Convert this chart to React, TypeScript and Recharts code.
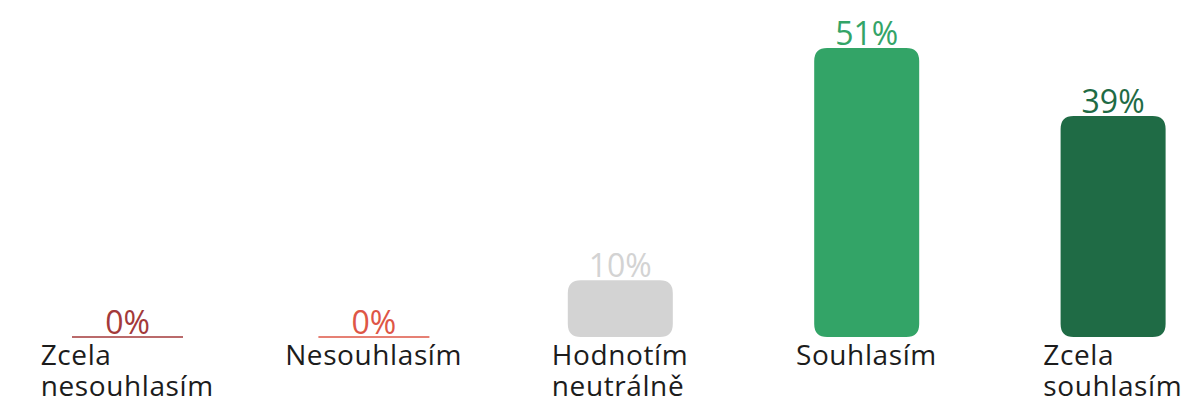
import React from 'react';
import { Bar, BarChart, Cell, LabelList, XAxis, YAxis } from 'recharts';

const kategorie = ['Zcela\nnesouhlasím', 'Nesouhlasím', 'Hodnotím\nneutrálně', 'Souhlasím', 'Zcela\nsouhlasím'];
const podily = [0, 0, 10, 51, 39];
const barvy = ['#a3393a', '#de5646', '#d3d3d3', '#33a467', '#1f6b45'];

const daten = kategorie.map((nazev, i) => ({ nazev, podil: podily[i] }));

const PISMO = '"Open Sans", "Noto Sans", sans-serif';

function Sloupec(props: any) {
  const { x, y, width, height, index } = props;
  const barva = barvy[index];
  if (!height) {
    return <line x1={x - 3} x2={x + width + 3} y1={y} y2={y} stroke={barva} strokeWidth={1.5} />;
  }
  const r = 13;
  const path = `M${x},${y + height} L${x},${y + r} Q${x},${y} ${x + r},${y} L${x + width - r},${y} Q${x + width},${y} ${x + width},${y + r} L${x + width},${y + height - r} Q${x + width},${y + height} ${x + width - r},${y + height} L${x + r},${y + height} Q${x},${y + height} ${x},${y + height - r} Z`;
  return <path d={path} fill={barva} />;
}

function Popisek(props: any) {
  const { x, y, width, value, index } = props;
  return (
    <text
      x={x + width / 2}
      y={y - 3}
      textAnchor="middle"
      fill={barvy[index]}
      fontSize={32}
      fontFamily={PISMO}
    >
      {`${value}%`}
    </text>
  );
}

function Popis(props: any) {
  const { x, y, payload } = props;
  return (
    <foreignObject x={x - 123} y={y + 2} width={246} height={68}>
      <div style={{ display: 'flex', justifyContent: 'center' }}>
        <div
          style={{
            textAlign: 'left',
            whiteSpace: 'pre-line',
            fontFamily: PISMO,
            fontSize: 28,
            letterSpacing: '0.6px',
            lineHeight: '31px',
            color: '#1c1c1c',
          }}
        >
          {payload.value}
        </div>
      </div>
    </foreignObject>
  );
}

export default function App() {
  return (
    <div style={{ position: 'absolute', left: 0, top: 0, width: 1192, height: 407, overflow: 'hidden', background: '#fff' }}>
      <BarChart width={1240} height={407} data={daten} margin={{ top: 48, right: 4, left: 4, bottom: 0 }}>
        <XAxis
          dataKey="nazev"
          axisLine={false}
          tickLine={false}
          tickSize={0}
          tickMargin={0}
          height={70}
          interval={0}
          tick={<Popis />}
        />
        <YAxis hide domain={[0, 'dataMax']} />
        <Bar dataKey="podil" barSize={105} shape={<Sloupec />} isAnimationActive={false}>
          {daten.map((_, i) => (
            <Cell key={i} fill={barvy[i]} />
          ))}
          <LabelList dataKey="podil" content={<Popisek />} />
        </Bar>
      </BarChart>
    </div>
  );
}
